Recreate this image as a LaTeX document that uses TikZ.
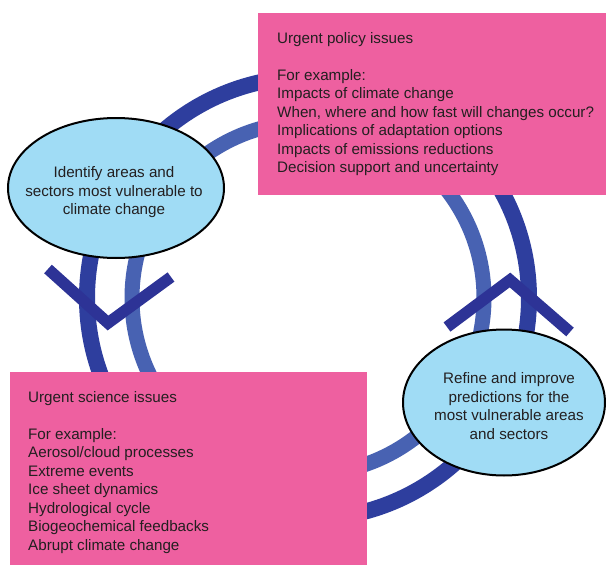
\documentclass[tikz,border=0pt]{standalone}
\usepackage{fontspec}
\setmainfont{Liberation Sans}
\usetikzlibrary{shapes.geometric}
\definecolor{ringdark}{HTML}{2E3E9E}
\definecolor{ringlight}{HTML}{4862B2}
\definecolor{chev}{HTML}{2D3396}
\definecolor{pinkbg}{HTML}{EE60A0}
\definecolor{bubble}{HTML}{A0DCF5}
\definecolor{ink}{HTML}{231F20}
\begin{document}
\begin{tikzpicture}[x=1pt,y=-1pt,
  txt/.style={font=\fontsize{15.2}{18.5}\selectfont, text=ink, inner sep=0pt, align=left},
  bubblestyle/.style={ellipse, draw=black, line width=2pt, fill=bubble, inner sep=0pt},
  pinkbox/.style={rectangle, fill=pinkbg, draw=none, inner sep=0pt},
  chevstyle/.style={chev, line width=11.5pt, line cap=butt, line join=miter},
  outerring/.style={ringdark, line width=16pt},
  innerring/.style={ringlight, line width=15pt}]
\useasboundingbox (0,0) rectangle (606,565);
\clip (0,0) rectangle (606,565);
\fill[white] (0,0) rectangle (606,565);
\coordinate (hub) at (308,298);
\draw[outerring] (hub) circle[radius=221];
\draw[innerring] (hub) circle[radius=176];
\node[bubblestyle, minimum width=216pt, minimum height=140pt] (identify) at (116,188) {};
\node[txt, align=center] (identifytext) at (114,192.5) {Identify areas and\\sectors most vulnerable to\\climate change};
\node[bubblestyle, minimum width=202pt, minimum height=146pt] (refine) at (504,402.5) {};
\node[txt, align=center] (refinetext) at (509,406) {Refine and improve\\predictions for the\\most vulnerable areas\\and sectors};
\node[pinkbox, anchor=north west, minimum width=360pt, minimum height=182pt] (policy) at (258,13) {};
\node[txt, anchor=north west] (policytext) at (277,32) {Urgent policy issues\\[18.5pt]For example:\\Impacts of climate change\\When, where and how fast will changes occur?\\Implications of adaptation options\\Impacts of emissions reductions\\Decision support and uncertainty};
\node[pinkbox, anchor=north west, minimum width=357pt, minimum height=200pt] (science) at (10,372) {};
\node[txt, anchor=north west] (sciencetext) at (28,391) {Urgent science issues\\[18.5pt]For example:\\Aerosol/cloud processes\\Extreme events\\Ice sheet dynamics\\Hydrological cycle\\Biogeochemical feedbacks\\Abrupt climate change};
\coordinate (vleft) at (48,269);
\coordinate (vtip) at (108,323);
\coordinate (vright) at (171,277);
\draw[chevstyle] (vleft) -- (vtip) -- (vright);
\coordinate (aleft) at (447,327);
\coordinate (atip) at (510,280);
\coordinate (aright) at (570,332);
\draw[chevstyle] (aleft) -- (atip) -- (aright);
\end{tikzpicture}
\end{document}
